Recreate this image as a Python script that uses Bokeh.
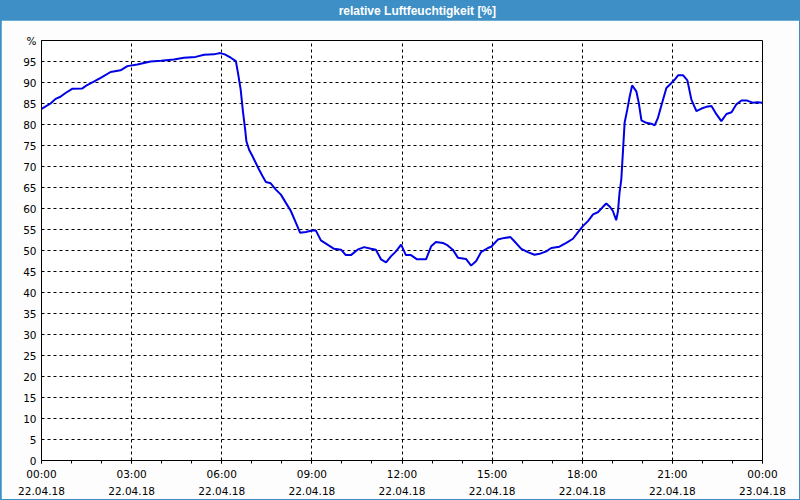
from bokeh.plotting import figure
from bokeh.models import FixedTicker, Range1d
from bokeh.layouts import column
from bokeh.embed import file_html
from bokeh.resources import INLINE
from bokeh.core.properties import value

title_text = "relative Luftfeuchtigkeit [%]"
hours = [0, 0.3, 0.47, 0.63, 0.8, 1.02, 1.36, 1.52, 1.74, 1.97,
         2.3, 2.63, 2.86, 3.19, 3.63, 3.97, 4.41, 4.74, 5.13, 5.41,
         5.74, 5.95, 6.1, 6.3, 6.47, 6.54, 6.63, 6.71, 6.78, 6.82,
         6.91, 7.02, 7.13, 7.24, 7.36, 7.47, 7.63, 7.8, 7.97, 8.13,
         8.3, 8.47, 8.61, 8.8, 8.97, 9.13, 9.3, 9.52, 9.74, 9.97,
         10.13, 10.3, 10.52, 10.74, 10.97, 11.13, 11.3, 11.47, 11.63, 11.8,
         11.97, 12.13, 12.3, 12.5, 12.8, 12.97, 13.13, 13.36, 13.52, 13.69,
         13.86, 14.13, 14.3, 14.47, 14.63, 14.86, 14.97, 15.19, 15.41, 15.61,
         15.74, 15.97, 16.19, 16.41, 16.58, 16.8, 16.97, 17.24, 17.47, 17.69,
         17.86, 18.02, 18.19, 18.36, 18.52, 18.69, 18.8, 18.91, 19.02, 19.13,
         19.19, 19.24, 19.3, 19.36, 19.41, 19.5, 19.58, 19.66, 19.8, 19.88,
         19.97, 20.13, 20.3, 20.41, 20.52, 20.66, 20.8, 20.97, 21.08, 21.19,
         21.36, 21.5, 21.63, 21.8, 21.97, 22.13, 22.3, 22.47, 22.63, 22.8,
         22.97, 23.13, 23.3, 23.49, 23.67, 23.83, 24.0]
humidity = [83.7, 85.0, 86.1, 86.6, 87.5, 88.5, 88.6, 89.4, 90.2, 91.1,
            92.5, 92.9, 93.9, 94.3, 95.0, 95.2, 95.5, 95.9, 96.1, 96.6,
            96.7, 97.0, 96.7, 95.9, 95.1, 92.3, 88.3, 82.8, 78.8, 76.0,
            74.0, 72.5, 70.9, 69.3, 67.7, 66.3, 66.0, 64.5, 63.3, 61.4,
            59.4, 56.6, 54.2, 54.4, 54.7, 54.8, 52.4, 51.4, 50.4, 50.2,
            48.9, 48.9, 50.2, 50.8, 50.4, 50.2, 47.9, 47.2, 48.6, 49.8,
            51.4, 48.9, 48.9, 47.9, 47.9, 51.0, 52.0, 51.8, 51.2, 50.2,
            48.3, 48.0, 46.4, 47.5, 49.6, 50.6, 50.9, 52.6, 53.0, 53.2,
            52.2, 50.4, 49.6, 49.0, 49.2, 49.8, 50.6, 50.9, 51.8, 52.8,
            54.4, 55.8, 57.0, 58.6, 59.1, 60.4, 61.2, 60.5, 59.4, 57.2,
            59.4, 63.7, 66.9, 74.2, 80.4, 83.6, 86.7, 89.3, 87.9, 85.2,
            81.0, 80.4, 80.2, 79.8, 81.6, 85.2, 88.7, 89.9, 90.7, 91.7,
            91.7, 90.5, 86.0, 83.2, 83.8, 84.2, 84.4, 82.4, 80.8, 82.5,
            82.9, 84.8, 85.7, 85.7, 85.2, 85.3, 85.2]
x_ticks = [0, 3, 6, 9, 12, 15, 18, 21, 24]
x_tick_labels = ["00:00\n22.04.18", "03:00\n22.04.18", "06:00\n22.04.18",
                 "09:00\n22.04.18", "12:00\n22.04.18", "15:00\n22.04.18",
                 "18:00\n22.04.18", "21:00\n22.04.18", "00:00\n23.04.18"]
y_ticks = list(range(0, 105, 5))

BLUE = "#3d8fc6"
BG = "#fcfdfc"
FONT = "DejaVu Sans"

# title bar
tb = figure(width=800, height=20, x_range=Range1d(0, 800), y_range=Range1d(0, 20),
            output_backend="svg", toolbar_location=None, min_border=0)
tb.axis.visible = False
tb.grid.visible = False
tb.outline_line_color = None
tb.background_fill_color = BLUE
tb.border_fill_color = BLUE
tb.text(x=[417], y=[10], text=[title_text], text_align="center", text_baseline="middle",
        text_color="white", text_font=value("Liberation Sans"), text_font_size="12px",
        text_font_style="bold")

p = figure(width=798, height=479, x_range=Range1d(0, 24), y_range=Range1d(0, 100),
           output_backend="svg", toolbar_location=None,
           min_border_left=40, min_border_right=37, min_border_top=20, min_border_bottom=38)
p.margin = (0, 1, 1, 1)
p.background_fill_color = "white"
p.border_fill_color = BG
p.outline_line_color = "black"
p.outline_line_width = 1

p.line(hours, humidity, line_color="#0000e6", line_width=2)

p.xaxis.ticker = FixedTicker(ticks=x_ticks, minor_ticks=list(range(0, 25)))
p.xaxis.major_label_overrides = {t: l for t, l in zip(x_ticks, x_tick_labels)}
p.yaxis.ticker = FixedTicker(ticks=y_ticks)
p.yaxis.major_label_overrides = {100: "%"}

for ax in (p.xaxis[0], p.yaxis[0]):
    ax.axis_line_color = "black"
    ax.major_label_text_font = FONT
    ax.major_label_text_font_size = "10.5px"
    ax.major_label_text_color = "#000000"
    ax.major_tick_in = 0
    ax.minor_tick_in = 0

p.xaxis.major_tick_out = 3
p.xaxis.minor_tick_out = 3
p.xaxis.major_label_standoff = 4
p.xaxis.major_label_text_line_height = 1.45
p.yaxis.major_tick_out = 0
p.yaxis.minor_tick_out = 0
p.yaxis.major_label_standoff = 5

p.grid.grid_line_color = "black"
p.grid.grid_line_dash = "3 3"
p.grid.grid_line_width = 1
p.xgrid.ticker = FixedTicker(ticks=x_ticks)
p.ygrid.ticker = FixedTicker(ticks=y_ticks)

layout = column(tb, p, spacing=0, styles={"background-color": BLUE})
open("out.html", "w").write(file_html(layout, INLINE))
